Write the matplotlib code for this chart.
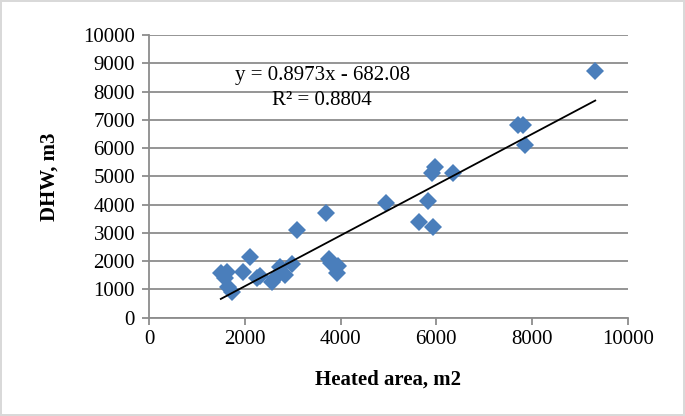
import numpy as np
import matplotlib.pyplot as plt

plt.rcParams['font.family'] = ['Liberation Serif', 'DejaVu Serif']

# heated area (m2) and DHW (m3)
area = [1500, 1620, 1590, 1660, 1730, 1970, 2100, 2250, 2320, 2560,
        2630, 2740, 2840, 2980, 3100, 3700, 3750, 3800, 3950, 3930,
        4950, 5630, 5820, 5940, 5910, 5980, 6350, 7700, 7820, 7850, 9320]
dhw = [1570, 1630, 1390, 1100, 920, 1630, 2130, 1400, 1480, 1270,
       1390, 1800, 1510, 1900, 3100, 3690, 2060, 1940, 1840, 1570,
       4070, 3400, 4130, 3220, 5120, 5330, 5130, 6820, 6800, 6100, 8740]

slope = 0.8973
intercept = -682.08
eq_line = "y = 0.8973x - 682.08"
r2_line = "R\u00b2 = 0.8804"

x_ticks = [0, 2000, 4000, 6000, 8000, 10000]
y_ticks = list(range(0, 10001, 1000))

fig = plt.figure(figsize=(6.85, 4.16), dpi=100)
fig.patch.set_edgecolor('#d9d9d9')
fig.patch.set_linewidth(1.5)
ax = fig.add_axes([0.2175, 0.2363, 0.699, 0.6796])

ax.grid(axis='y', color='#8c8c8c', linewidth=1.3)
ax.set_axisbelow(True)

ax.plot(area, dhw, 'D', color='#4a7ebb', markersize=9, markeredgewidth=0, zorder=3)

xl = np.array([min(area), max(area)])
ax.plot(xl, slope * xl + intercept, color='black', linewidth=1.3, zorder=4)

ax.text(3615, 8580, eq_line, ha='center', va='center', fontsize=15)
ax.text(3615, 7700, r2_line, ha='center', va='center', fontsize=15)

ax.set_xlim(0, 10000)
ax.set_ylim(0, 10000)
ax.set_xticks(x_ticks)
ax.set_yticks(y_ticks)
ax.tick_params(labelsize=15, color='#8c8c8c', length=5, width=1.3, direction='out')
ax.tick_params(axis='y', pad=5)
ax.tick_params(axis='x', pad=4)

for s in ['top', 'right']:
    ax.spines[s].set_visible(False)
for s in ['left', 'bottom']:
    ax.spines[s].set_color('#8c8c8c')
    ax.spines[s].set_linewidth(1.3)

ax.set_xlabel('Heated area, m2', fontsize=15, fontweight='bold', labelpad=15)
ax.set_ylabel('DHW, m3', fontsize=15, fontweight='bold', labelpad=17)

fig.savefig('out.png', dpi=100, edgecolor=fig.get_edgecolor())
